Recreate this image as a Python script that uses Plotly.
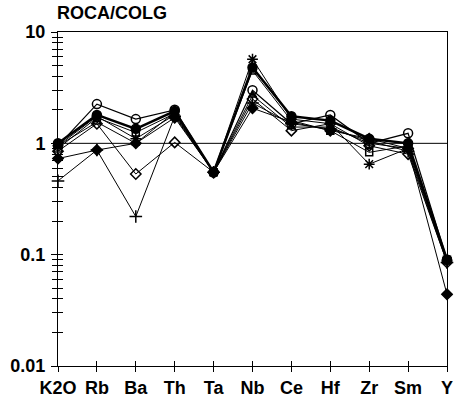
import plotly.graph_objects as go

categories = ["K2O", "Rb", "Ba", "Th", "Ta", "Nb", "Ce", "Hf", "Zr", "Sm", "Y"]

s_open_circle   = [0.95, 2.25, 1.65, 2.00, 0.55, 3.00, 1.50, 1.80, 1.00, 1.23, 0.090]
s_filled_circle = [1.00, 1.80, 1.35, 1.95, 0.55, 4.80, 1.75, 1.60, 1.10, 1.00, 0.090]
s_open_square   = [0.90, 1.70, 1.25, 1.85, 0.55, 4.50, 1.60, 1.30, 0.83, 0.95, 0.090]
s_asterisk      = [0.95, 1.75, 1.10, 1.80, 0.55, 5.70, 1.65, 1.50, 0.65, 0.90, 0.088]
s_open_diamond  = [0.85, 1.50, 0.53, 1.02, 0.55, 2.50, 1.30, 1.50, 0.95, 0.80, 0.085]
s_open_triangle = [0.95, 1.55, 1.00, 1.90, 0.55, 2.70, 1.40, 1.40, 1.00, 0.90, 0.090]
s_plus          = [0.46, 0.87, 0.22, 1.75, 0.55, 2.30, 1.50, 1.35, 1.05, 0.85, 0.085]
s_filled_diamond= [0.73, 0.87, 1.00, 1.70, 0.55, 2.07, 1.55, 1.30, 1.10, 0.90, 0.044]

y_major = [0.01, 0.1, 1, 10]
y_major_text = ["0.01", "0.1", "1", "10"]

series = [
    (s_open_diamond, "diamond-open", 1, 8),
    (s_plus, "cross-thin-open", 1, 9),
    (s_filled_diamond, "diamond", 1, 8),
    (s_open_triangle, "triangle-up-open", 1, 7),
    (s_open_square, "square-open", 1, 7),
    (s_asterisk, "asterisk-open", 1, 9),
    (s_open_circle, "circle-open", 1.2, 9),
    (s_filled_circle, "circle", 2.5, 9),
]

x = list(range(len(categories)))
fig = go.Figure()
for vals, sym, lw, ms in series:
    fig.add_trace(go.Scatter(
        x=x, y=vals, mode="lines+markers",
        line=dict(color="black", width=lw),
        marker=dict(symbol=sym, size=ms, color="black",
                    line=dict(color="black", width=1.5)),
        showlegend=False, cliponaxis=False))

# reference line at 1
fig.add_shape(type="line", xref="x", yref="y", x0=0, x1=10, y0=1, y1=1,
              line=dict(color="black", width=1))

minor_vals = [m * 10 ** e for e in (-2, -1, 0) for m in range(2, 10)]
font = dict(family="Liberation Sans, Arial, sans-serif", size=18, color="black", weight="bold")

fig.update_layout(
    width=454, height=401,
    margin=dict(l=58, r=7, t=32, b=35, autoexpand=False),
    paper_bgcolor="white", plot_bgcolor="white",
    title=dict(text="ROCA/COLG", x=57 / 454, xanchor="left", y=1 - 13 / 401,
               yanchor="middle", font=dict(family="Liberation Sans, Arial, sans-serif",
                                            size=18, color="black", weight="bold")),
    xaxis=dict(range=[0, 10], tickvals=x, ticktext=categories, showgrid=False,
               zeroline=False, showline=True, linecolor="black", linewidth=1,
               mirror=True, ticks="outside", ticklen=5, tickcolor="black",
               tickfont=font, automargin=False),
    xaxis2=dict(range=[0, 10], overlaying="x", tickvals=x, showticklabels=False,
                showgrid=False, zeroline=False, ticks="inside", ticklen=5,
                tickcolor="black", side="bottom", automargin=False),
    yaxis=dict(type="log", range=[-2, 1], tickvals=y_major, ticktext=y_major_text,
               showgrid=False, zeroline=False, showline=True, linecolor="black",
               linewidth=1, mirror=True, ticks="outside", ticklen=6,
               tickcolor="black", tickfont=font, ticklabelstandoff=2, automargin=False,
               minor=dict(tickvals=minor_vals, ticks="outside", ticklen=5,
                          tickcolor="black", showgrid=False)),
    yaxis2=dict(type="log", range=[-2, 1], overlaying="y", showticklabels=False,
                tickvals=y_major + minor_vals, showgrid=False, zeroline=False,
                ticks="inside", ticklen=5, tickcolor="black", side="left",
                automargin=False),
)
# dummy trace to activate overlay axes
fig.add_trace(go.Scatter(x=[None], y=[None], xaxis="x2", yaxis="y2", showlegend=False))

fig.write_html("out.html")
